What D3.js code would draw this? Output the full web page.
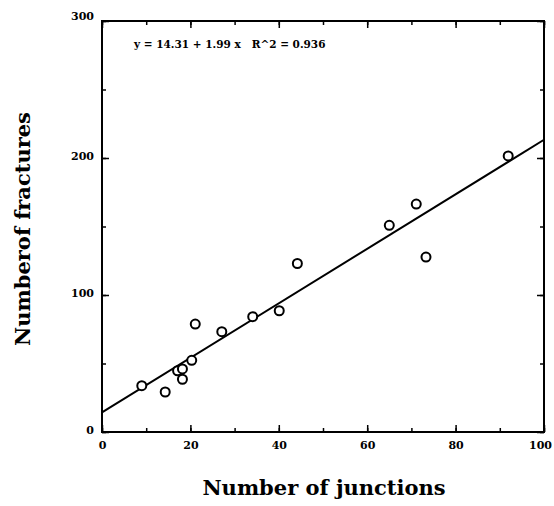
<!DOCTYPE html>
<html>
<head>
<meta charset="utf-8">
<script src="https://cdn.jsdelivr.net/npm/d3@7"></script>
<style>
  body { margin: 0; background: #fff; }
  text { font-family: "DejaVu Serif", "Liberation Serif", serif; font-weight: bold; fill: #000; }
</style>
</head>
<body>
<svg width="554" height="506"></svg>
<script>
// data
var junctions = [9, 14.3, 17.1, 18.2, 18.2, 20.3, 21.1, 27.1, 34.1, 40.1, 44.2, 65.0, 71.1, 73.3, 91.9];
var fractures = [33.8, 29.2, 44.7, 46, 38.5, 52.3, 78.8, 73.2, 84.2, 88.5, 123, 150.9, 166.4, 127.7, 201.5];
var fitA = 14.31, fitB = 1.99;
var xTicks = [0, 20, 40, 60, 80, 100];
var yTicks = [0, 100, 200, 300];

var svg = d3.select("svg"),
  margin = {top: 21, right: 10, bottom: 74, left: 102},
  width = 544 - margin.left,
  height = 432 - margin.top,
  g = svg.append("g").attr("transform", "translate(" + margin.left + "," + margin.top + ")");

var x = d3.scaleLinear().domain([0, 100]).range([0, width]),
  y = d3.scaleLinear().domain([0, 300]).range([height, 0]);

// minor / major ticks on all four sides, pointing inward
function ticks(axis, vals, len) {
  return axis.tickValues(vals).tickSizeInner(-len).tickSizeOuter(0).tickFormat("");
}
var xMinor = d3.range(0, 101, 10), yMinor = d3.range(0, 301, 50);

[["bottom", "translate(0," + height + ")"], ["top", "translate(0,0)"]].forEach(function(s) {
  var ax = s[0] == "bottom" ? d3.axisBottom(x) : d3.axisTop(x);
  g.append("g").attr("class", "tk").attr("transform", s[1]).call(ticks(ax, xMinor, 4));
  ax = s[0] == "bottom" ? d3.axisBottom(x) : d3.axisTop(x);
  g.append("g").attr("class", "tk").attr("transform", s[1]).call(ticks(ax, xTicks, 7));
});
[["left", "translate(0,0)"], ["right", "translate(" + width + ",0)"]].forEach(function(s) {
  var ax = s[0] == "left" ? d3.axisLeft(y) : d3.axisRight(y);
  g.append("g").attr("class", "tk").attr("transform", s[1]).call(ticks(ax, yMinor, 4));
  ax = s[0] == "left" ? d3.axisLeft(y) : d3.axisRight(y);
  g.append("g").attr("class", "tk").attr("transform", s[1]).call(ticks(ax, yTicks, 7));
});
g.selectAll(".tk .domain").remove();
g.selectAll(".tk line").attr("stroke", "#000").attr("stroke-width", 1.5);

// labels
g.append("g")
  .attr("transform", "translate(0," + height + ")")
  .call(d3.axisBottom(x).tickValues(xTicks).tickSize(0).tickPadding(9))
  .call(a => a.select(".domain").remove())
  .selectAll("text").style("font-size", "11px").attr("fill", "#000")
  .attr("dx", d => d == 100 ? -4 : 0);

g.append("g")
  .call(d3.axisLeft(y).tickValues(yTicks).tickSize(0).tickPadding(8))
  .call(a => a.select(".domain").remove())
  .selectAll("text").style("font-size", "11px").attr("fill", "#000")
  .attr("dy", d => d == 300 ? "-0.1em" : "0.1em");

// frame
g.append("rect").attr("width", width).attr("height", height)
  .attr("fill", "none").attr("stroke", "#000").attr("stroke-width", 2);

// fit line
var line = d3.line().x(d => x(d)).y(d => y(fitA + fitB * d));
g.append("path").datum([0, 100]).attr("d", line)
  .attr("fill", "none").attr("stroke", "#000").attr("stroke-width", 2);

// points
g.selectAll(".pt").data(junctions).enter().append("circle")
  .attr("class", "pt")
  .attr("cx", d => x(d))
  .attr("cy", (d, i) => y(fractures[i]))
  .attr("r", 4.5)
  .attr("fill", "#fff").attr("stroke", "#000").attr("stroke-width", 2);

g.append("text").attr("x", 32).attr("y", 27)
  .style("font-size", "10.5px")
  .attr("xml:space", "preserve")
  .text("y = 14.31 + 1.99 x   R^2 = 0.936");

svg.append("text").attr("x", 324).attr("y", 495)
  .attr("text-anchor", "middle").style("font-size", "21px")
  .text("Number of junctions");

svg.append("text").attr("transform", "translate(30,229) rotate(-90)")
  .attr("text-anchor", "middle").style("font-size", "21px")
  .text("Numberof fractures");
</script>
</body>
</html>
